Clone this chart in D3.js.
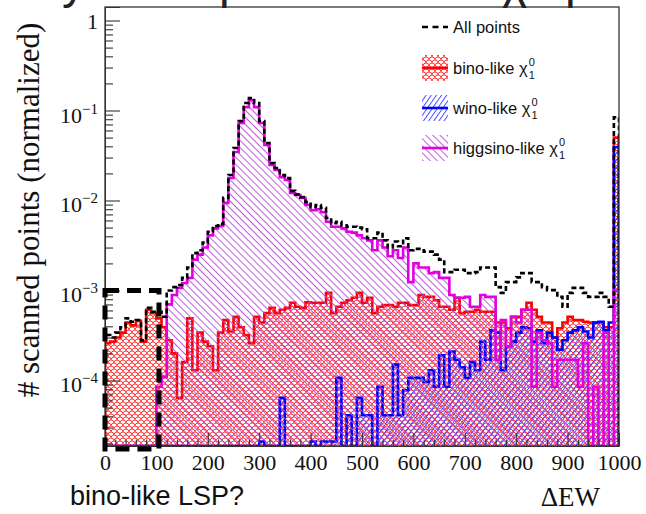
<!DOCTYPE html>
<html>
<head>
<meta charset="utf-8">
<script src="https://cdn.jsdelivr.net/npm/d3@7"></script>
<style>
  body { margin: 0; background: #fff; }
  svg { display: block; }
</style>
</head>
<body>
<script>
// ΔEW histogram: 100 bins of width 10 from 0 to 1000, fractions of all scanned points
const binEdges = d3.range(0, 1001, 10);

const allPoints = [
  3.2e-4, 3.0e-4, 3.4e-4, 3.9e-4, 4.9e-4, 4.5e-4, 4.7e-4, 2.8e-4, 6.4e-4, 5.8e-4,
  5.8e-4, 5.1e-4, 1.0e-3, 1.09e-3, 1.15e-3, 1.38e-3, 1.8e-3, 2.6e-3, 2.8e-3, 3.4e-3,
  4.5e-3, 5.2e-3, 5.5e-3, 0.0107, 0.0192, 0.0383, 0.0764, 0.121, 0.1377, 0.121,
  0.0764, 0.0435, 0.0261, 0.0230, 0.0192, 0.0178, 0.0128, 0.0117, 0.0109, 0.0096,
  0.0085, 0.0089, 0.0083, 0.0064, 0.0056, 0.0058, 0.0053, 0.0051, 0.0051, 0.0050,
  0.0048, 0.0038, 0.0038, 0.0044, 0.0036, 0.0030, 0.0035, 0.0031, 0.0038, 0.0028,
  0.0029, 0.0029, 0.0027, 0.0027, 0.0025, 0.0022, 0.0016, 0.0016, 0.0017, 0.0017,
  1.56e-3, 1.56e-3, 1.6e-3, 1.8e-3, 1.8e-3, 1.8e-3, 1.09e-3, 9.4e-4, 1.24e-3, 1.24e-3,
  1.4e-3, 1.56e-3, 1.56e-3, 1.24e-3, 1.24e-3, 1.09e-3, 1.01e-3, 1.01e-3, 8.5e-4, 6.6e-4,
  9.4e-4, 1.07e-3, 1.07e-3, 9.4e-4, 8.5e-4, 8.5e-4, 9.4e-4, 8.5e-4, 6.6e-4, 0.084
];

const binoLike = [
  2.6e-4, 2.7e-4, 3.0e-4, 3.4e-4, 4.4e-4, 4.1e-4, 4.6e-4, 2.7e-4, 6.1e-4, 5.6e-4,
  4.9e-4, 3.9e-4, 2.8e-4, 2.0e-4, 6.4e-5, 1.6e-4, 4.9e-4, 1.3e-4, 3.4e-4, 2.7e-4,
  2.4e-4, 1.3e-4, 3.4e-4, 4.7e-4, 3.5e-4, 5.1e-4, 3.9e-4, 3.2e-4, 2.6e-4, 5.1e-4,
  4.4e-4, 5.6e-4, 6.4e-4, 5.6e-4, 6.1e-4, 6.4e-4, 7.3e-4, 6.6e-4, 6.4e-4, 7.4e-4,
  7.3e-4, 7.3e-4, 7.3e-4, 9.4e-4, 5.6e-4, 6.6e-4, 7.3e-4, 7.8e-4, 8.3e-4, 9.4e-4,
  7.3e-4, 8.3e-4, 5.6e-4, 6.6e-4, 6.9e-4, 6.9e-4, 6.6e-4, 7.3e-4, 7.3e-4, 6.9e-4,
  6.9e-4, 8.9e-4, 8.5e-4, 8.5e-4, 7.8e-4, 6.6e-4, 6.6e-4, 6.1e-4, 8.3e-4, 5.6e-4,
  5.8e-4, 5.8e-4, 6.1e-4, 5.8e-4, 5.8e-4, 5.8e-4, 4.4e-4, 4.4e-4, 3.8e-4, 5.1e-4,
  5.1e-4, 6.1e-4, 7.3e-4, 6.1e-4, 5.1e-4, 4.4e-4, 4.4e-4, 3.0e-4, 3.8e-4, 4.4e-4,
  5.1e-4, 4.7e-4, 4.7e-4, 4.5e-4, 4.4e-4, 4.4e-4, 4.4e-4, 3.9e-4, 3.9e-4, 0.05
];

const winoLike = [
  0, 0, 0, 0, 0, 0, 0, 0, 0, 0,
  0, 0, 0, 0, 0, 0, 0, 0, 0, 0,
  0, 0, 0, 0, 0, 0, 0, 0, 0, 0,
  2.1e-5, 0, 0, 0, 6.4e-5, 0, 0, 0, 0, 0,
  2.1e-5, 0, 2.1e-5, 2.1e-5, 2.1e-5, 1.07e-4, 0, 4.1e-5, 0, 6.4e-5,
  4.1e-5, 4.1e-5, 0, 8.5e-5, 4.1e-5, 4.1e-5, 1.5e-4, 4.1e-5, 7.8e-5, 1.07e-4,
  1.07e-4, 1.07e-4, 9.6e-5, 1.3e-4, 8.5e-5, 1.9e-4, 8.5e-5, 2.1e-4, 1.7e-4, 1.4e-4,
  1.07e-4, 1.6e-4, 1.3e-4, 2.7e-4, 1.7e-4, 3.6e-4, 3.4e-4, 1.3e-4, 2.4e-4, 2.7e-4,
  3.4e-4, 3.9e-4, 3.8e-4, 2.7e-4, 3.6e-4, 2.6e-4, 3.4e-4, 3.0e-4, 2.2e-4, 2.8e-4,
  3.4e-4, 3.6e-4, 3.9e-4, 3.5e-4, 3.0e-4, 4.4e-4, 4.5e-4, 3.6e-4, 4.4e-4, 0.039
];

const higgsinoLike = [
  0, 0, 0, 0, 0, 0, 0, 0, 0, 0,
  8.5e-5, 1.1e-4, 7.0e-4, 8.9e-4, 1.07e-3, 1.21e-3, 1.38e-3, 2.2e-3, 2.5e-3, 3.0e-3,
  4.1e-3, 4.9e-3, 5.2e-3, 9.4e-3, 0.0178, 0.0346, 0.0726, 0.109, 0.131, 0.109,
  0.0726, 0.0414, 0.0248, 0.0218, 0.0182, 0.0169, 0.0121, 0.0115, 0.0107, 0.0089,
  0.0078, 0.0080, 0.0074, 0.0058, 0.0051, 0.0051, 0.0049, 0.0045, 0.0044, 0.0041,
  0.0038, 0.0036, 0.0028, 0.0036, 0.0030, 0.0024, 0.0028, 0.0023, 0.0030, 1.24e-3,
  0.0020, 0.0018, 0.0018, 1.56e-3, 1.6e-3, 1.38e-3, 1.38e-3, 8.9e-4, 8.3e-4, 8.3e-4,
  8.5e-4, 6.6e-4, 6.6e-4, 8.9e-4, 8.5e-4, 8.5e-4, 1.7e-4, 4.7e-4, 2.4e-4, 5.1e-4,
  4.4e-4, 6.1e-4, 6.1e-4, 8.5e-5, 3.4e-4, 2.8e-4, 2.6e-4, 8.5e-5, 1.7e-4, 1.7e-4,
  1.7e-4, 1.7e-4, 8.5e-5, 2.6e-4, 0, 8.5e-5, 0, 3.4e-4, 0, 1.0e-3
];

const xTicks = d3.range(0, 1001, 100);
const xMinorTicks = d3.range(0, 1001, 20).filter(v => v % 100 !== 0);
const yTicks = [1, 1e-1, 1e-2, 1e-3, 1e-4];
const yTickLabels = [["1", ""], ["10", "\u22121"], ["10", "\u22122"], ["10", "\u22123"], ["10", "\u22124"]];

const legendLabels = ["All points", "bino-like \u03C7", "wino-like \u03C7", "higgsino-like \u03C7"];

// ---------------------------------------------------------------------------
const W = 646, H = 514;
const frame = { left: 105, right: 619, top: 7, bottom: 446 };
const serif = "'Liberation Serif', 'Times New Roman', serif";
const sans = "'Liberation Sans', Arial, Helvetica, sans-serif";

const svg = d3.select("body").append("svg").attr("width", W).attr("height", H);

const x = d3.scaleLinear().domain([0, 1000]).range([frame.left, frame.right]);
const y = d3.scaleLog().domain([1.87e-5, 1.413]).range([frame.bottom, frame.top]);

// fill patterns
const defs = svg.append("defs");
defs.append("clipPath").attr("id", "plotClip").append("rect")
  .attr("x", frame.left).attr("y", frame.top)
  .attr("width", frame.right - frame.left).attr("height", frame.bottom - frame.top);

const scales = defs.append("pattern").attr("id", "binoFill")
  .attr("patternUnits", "userSpaceOnUse").attr("width", 6).attr("height", 6);
scales.append("path")
  .attr("d", "M0,3 A3,3 0 0 1 6,3 M-3,6 A3,3 0 0 1 3,6 M3,6 A3,3 0 0 1 9,6")
  .attr("fill", "none").attr("stroke", "#ff2a2a").attr("stroke-width", 0.9);

function linePattern(id, color, spacing, angle, width) {
  const p = defs.append("pattern").attr("id", id)
    .attr("patternUnits", "userSpaceOnUse")
    .attr("width", spacing).attr("height", 10)
    .attr("patternTransform", `rotate(${angle})`);
  p.append("line").attr("x1", 0.5).attr("y1", 0).attr("x2", 0.5).attr("y2", 10)
    .attr("stroke", color).attr("stroke-width", width);
}
linePattern("winoFill", "#3a3aff", 4.2, 35, 0.9);
linePattern("higgsinoFill", "#b84ad8", 5, -45, 0.9);

// histogram outline as a step path
function stepPoints(values) {
  const pts = [[x(binEdges[0]), frame.bottom]];
  values.forEach((v, i) => {
    const yy = v > 0 ? Math.min(y(v), frame.bottom) : frame.bottom;
    pts.push([x(binEdges[i]), yy], [x(binEdges[i + 1]), yy]);
  });
  pts.push([x(binEdges[binEdges.length - 1]), frame.bottom]);
  return pts;
}
const line = d3.line();

const plot = svg.append("g").attr("clip-path", "url(#plotClip)");

const series = [
  { values: binoLike, fill: "url(#binoFill)", color: "#ff0000" },
  { values: winoLike, fill: "url(#winoFill)", color: "#0000ff" },
  { values: higgsinoLike, fill: "url(#higgsinoFill)", color: "#e000e0" }
];
series.forEach(s => {
  const pts = stepPoints(s.values);
  plot.append("path").attr("d", line(pts) + "Z").attr("fill", s.fill).attr("stroke", "none");
  plot.append("path").attr("d", line(pts)).attr("fill", "none")
    .attr("stroke", s.color).attr("stroke-width", 2.6).attr("stroke-linejoin", "miter");
});
plot.append("path").attr("d", line(stepPoints(allPoints))).attr("fill", "none")
  .attr("stroke", "#000").attr("stroke-width", 2.6).attr("stroke-dasharray", "5,3");

// axes: ticks point into the frame
const axisColor = "#333";
const xAxis = svg.append("g").attr("transform", `translate(0,${frame.bottom})`)
  .call(d3.axisBottom(x).tickValues(xTicks).tickSize(-13).tickPadding(8).tickFormat(d3.format("d")));
svg.append("g").attr("transform", `translate(0,${frame.bottom})`)
  .call(d3.axisBottom(x).tickValues(xMinorTicks).tickSize(-6.5).tickFormat(""))
  .call(g => g.select(".domain").remove());
xAxis.selectAll("text").attr("font-family", serif).attr("font-size", 22).attr("fill", "#111");

const yMinor = [];
for (let e = -5; e <= 0; e++) for (let m = 2; m <= 9; m++) {
  const v = m * Math.pow(10, e);
  if (v > y.domain()[0] && v < y.domain()[1]) yMinor.push(v);
}
svg.append("g").attr("transform", `translate(${frame.left},0)`)
  .call(d3.axisLeft(y).tickValues(yTicks).tickSize(-15).tickFormat(""));
svg.append("g").attr("transform", `translate(${frame.left},0)`)
  .call(d3.axisLeft(y).tickValues(yMinor).tickSize(-8).tickFormat(""))
  .call(g => g.select(".domain").remove());
svg.selectAll(".tick line").attr("stroke", axisColor).attr("stroke-width", 1.1);
svg.selectAll(".domain").attr("stroke", axisColor);

yTicks.forEach((v, i) => {
  const [base, exp] = yTickLabels[i];
  const t = svg.append("text").attr("text-anchor", "end").attr("x", 98)
    .attr("font-family", serif).attr("fill", "#111");
  if (exp) {
    t.attr("y", y(v) + 12);
    t.append("tspan").attr("font-size", 22).text(base);
    t.append("tspan").attr("font-size", 15).attr("dy", -9).text(exp);
  } else {
    t.attr("y", y(v) + 8).attr("font-size", 22).text(base);
  }
});

// frame
svg.append("rect").attr("x", frame.left).attr("y", frame.top)
  .attr("width", frame.right - frame.left).attr("height", frame.bottom - frame.top)
  .attr("fill", "none").attr("stroke", axisColor).attr("stroke-width", 1.3);

// axis titles
svg.append("text").attr("transform", `translate(28,210) rotate(-90)`)
  .attr("text-anchor", "middle").attr("dy", "0.35em")
  .attr("font-family", serif).attr("font-size", 31).attr("fill", "#111")
  .text("# scanned points (normalized)");
svg.append("text").attr("x", 600).attr("y", 506).attr("text-anchor", "end")
  .attr("font-family", serif).attr("font-size", 27).attr("fill", "#111")
  .text("\u0394EW");

// legend
const legend = svg.append("g");
const legendY = [27, 68, 108, 148];
const legendStyles = [
  { dashed: true, color: "#000" },
  { fill: "url(#binoFill)", color: "#ff0000" },
  { fill: "url(#winoFill)", color: "#0000ff" },
  { fill: "url(#higgsinoFill)", color: "#e000e0" }
];
legendLabels.forEach((label, i) => {
  const cy = legendY[i], st = legendStyles[i];
  if (st.dashed) {
    legend.append("line").attr("x1", 422).attr("x2", 448).attr("y1", cy).attr("y2", cy)
      .attr("stroke", st.color).attr("stroke-width", 2.6).attr("stroke-dasharray", "6,4.5");
  } else {
    legend.append("rect").attr("x", 422).attr("y", cy - 13).attr("width", 26).attr("height", 26)
      .attr("fill", st.fill);
    legend.append("line").attr("x1", 422).attr("x2", 448).attr("y1", cy).attr("y2", cy)
      .attr("stroke", st.color).attr("stroke-width", 2.6);
  }
  const t = legend.append("text").attr("x", 453).attr("y", cy + 6)
    .attr("font-family", sans).attr("font-size", 16.5).attr("fill", "#111").text(label);
  if (i > 0) {
    const w = t.node().getComputedTextLength();
    legend.append("text").attr("x", 453 + w + 1).attr("y", cy - 2)
      .attr("font-family", sans).attr("font-size", 11).attr("fill", "#111").text("0");
    legend.append("text").attr("x", 453 + w + 1).attr("y", cy + 11)
      .attr("font-family", sans).attr("font-size", 11).attr("fill", "#111").text("1");
  }
});

// dashed box marking the low-ΔEW bino-like region
svg.append("rect").attr("x", x(0)).attr("y", y(1.0e-3))
  .attr("width", x(105) - x(0)).attr("height", 449 - y(1.0e-3))
  .attr("fill", "none").attr("stroke", "#000").attr("stroke-width", 5)
  .attr("stroke-dasharray", "14,8");

svg.append("text").attr("x", 70).attr("y", 505)
  .attr("font-family", sans).attr("font-size", 27).attr("fill", "#111")
  .text("bino-like LSP?");

// slide heading above the plot (only its lower edge is on the page)
const heading = svg.append("g").attr("font-family", sans).attr("font-size", 48).attr("fill", "#222");
[["y", 62], ["p", 219], ["\u03C7", 502], ["p", 565]].forEach(([ch, px]) => {
  heading.append("text").attr("x", px).attr("y", -2).text(ch);
});
</script>
</body>
</html>
